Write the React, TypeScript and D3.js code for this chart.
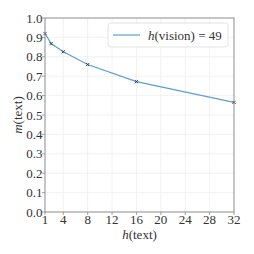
import React from "react";
import * as d3 from "d3";

const xValues = [1, 2, 4, 8, 16, 32];
const yValues = [0.92, 0.868, 0.826, 0.76, 0.672, 0.565];
const xTicks = [1, 4, 8, 12, 16, 20, 24, 28, 32];
const yTicks = [0, 0.1, 0.2, 0.3, 0.4, 0.5, 0.6, 0.7, 0.8, 0.9, 1.0];
const legendLabel = "= 49";

export default function App() {
  const W = 254, H = 254;
  const L = 45, R = 234, T = 18, B = 212;
  const x = d3.scaleLinear().domain([1, 32]).range([L, R]);
  const y = d3.scaleLinear().domain([0, 1]).range([B, T]);
  const line = d3.line<number>().x((_, i) => x(xValues[i])).y((d) => y(d));
  const font = "'Liberation Serif', 'DejaVu Serif', serif";
  const lineColor = "#5a9fd6";
  return (
    <svg width={W} height={H} style={{ position: "absolute", left: 0, top: 0 }} fontFamily={font}>
      <rect width={W} height={H} fill="white" />
      {xTicks.slice(1, -1).map((t) => (
        <line key={"gx" + t} x1={x(t)} x2={x(t)} y1={T} y2={B} stroke="#ededed" strokeWidth={0.8} />
      ))}
      {yTicks.slice(1, -1).map((t) => (
        <line key={"gy" + t} x1={L} x2={R} y1={y(t)} y2={y(t)} stroke="#ededed" strokeWidth={0.8} />
      ))}
      <path d={line(yValues) || ""} fill="none" stroke={lineColor} strokeWidth={1.2} />
      {yValues.map((v, i) => {
        const cx = x(xValues[i]), cy = y(v), s = 1.6;
        return (
          <g key={"m" + i} stroke="#1f3550" strokeWidth={0.9}>
            <line x1={cx - s} y1={cy - s} x2={cx + s} y2={cy + s} />
            <line x1={cx - s} y1={cy + s} x2={cx + s} y2={cy - s} />
          </g>
        );
      })}
      <rect x={L} y={T} width={R - L} height={B - T} fill="none" stroke="#8c8c8c" strokeWidth={1} />
      {xTicks.map((t) => (
        <g key={"tx" + t}>
          <line x1={x(t)} x2={x(t)} y1={B} y2={B + 3} stroke="#8c8c8c" strokeWidth={0.8} />
          <text x={x(t)} y={B + 12} fontSize={13} textAnchor="middle" fill="#333">{t}</text>
        </g>
      ))}
      {yTicks.map((t) => (
        <g key={"ty" + t}>
          <line x1={L - 3} x2={L} y1={y(t)} y2={y(t)} stroke="#8c8c8c" strokeWidth={0.8} />
          <text x={L - 2.5} y={y(t) + 4.5} fontSize={13} textAnchor="end" fill="#333">{t.toFixed(1)}</text>
        </g>
      ))}
      <text x={(L + R) / 2} y={238.5} fontSize={13} textAnchor="middle" fill="#333">
        <tspan fontStyle="italic">h</tspan>(text)
      </text>
      <text transform={`translate(22, ${(T + B) / 2}) rotate(-90)`} fontSize={13} textAnchor="middle" fill="#333">
        <tspan fontStyle="italic">m</tspan>(text)
      </text>
      <rect x={108} y={23} width={120} height={24} rx={3} fill="white" fillOpacity={0.85} stroke="#dcdcdc" strokeWidth={0.8} />
      <line x1={113} x2={140} y1={35} y2={35} stroke={lineColor} strokeWidth={1.2} />
      <text x={148} y={39.5} fontSize={13} fill="#333">
        <tspan fontStyle="italic">h</tspan>(vision) {legendLabel}
      </text>
    </svg>
  );
}
